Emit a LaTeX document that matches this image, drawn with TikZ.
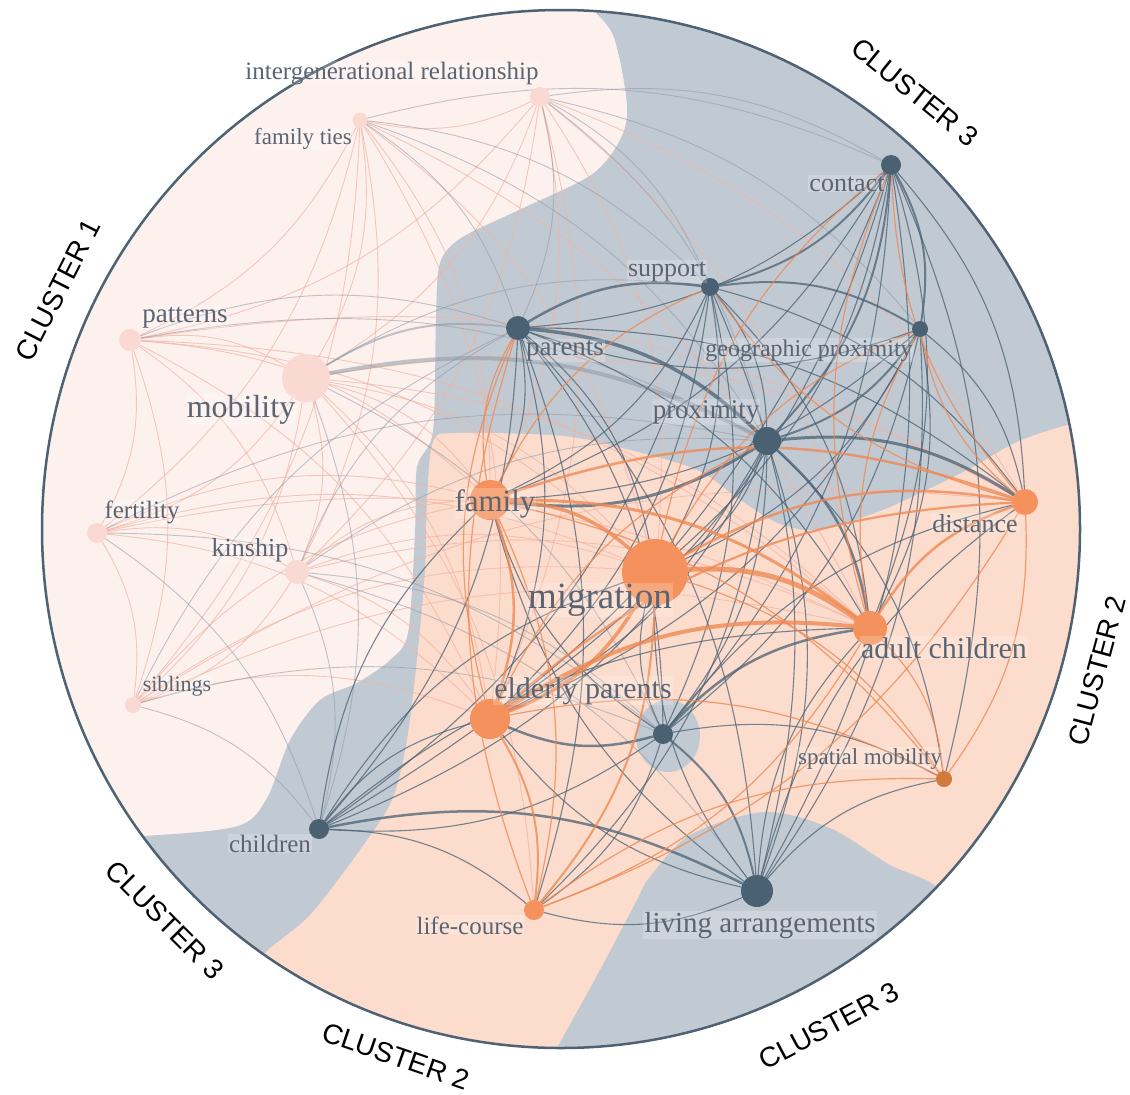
\documentclass[tikz,border=0pt]{standalone}
\usepackage{fontspec}
\setmainfont{Liberation Serif}
\newfontfamily\clusterfont{Liberation Sans}

\definecolor{bgone}{HTML}{FDF1EE}
\definecolor{bgtwo}{HTML}{FCDCCC}
\definecolor{bgthree}{HTML}{C1CAD3}
\definecolor{rim}{HTML}{4E6273}
\definecolor{kwone}{HTML}{F9D9D2}
\definecolor{kwtwo}{HTML}{F4915C}
\definecolor{kwthree}{HTML}{4A6174}
\definecolor{spmcol}{HTML}{D27A3E}
\definecolor{linkone}{HTML}{F2B3A3}
\definecolor{linkmix}{HTML}{8E98A5}
\definecolor{linktwo}{HTML}{EF8A55}
\definecolor{linkthree}{HTML}{4A6174}
\definecolor{labtext}{HTML}{5A6472}

\pgfdeclarelayer{regions}
\pgfdeclarelayer{links}
\pgfdeclarelayer{words}
\pgfsetlayers{regions,links,main,words}

\begin{document}
\begin{tikzpicture}[x=1pt,y=-1pt,
    kw/.style={circle, inner sep=0pt, minimum size=#1},
    c1/.style={kw=#1, fill=kwone},
    c2/.style={kw=#1, fill=kwtwo},
    c3/.style={kw=#1, fill=kwthree},
    lk/.style={bend left=19, line cap=round},
    lkone/.style={lk, draw=linkone, opacity=0.7, line width=0.9pt},
    lkmix/.style={lk, draw=linkmix, opacity=0.55, line width=0.9pt},
    lktwo/.style={lk, draw=linktwo, opacity=0.8, line width=1.2pt},
    lkthree/.style={lk, draw=linkthree, opacity=0.75, line width=1.1pt},
    word/.style={text=labtext, anchor=base, inner sep=1pt, fill=white, fill opacity=0.2, text opacity=1, font=\fontsize{#1}{#1}\selectfont},
    cluster/.style={font=\clusterfont\fontsize{28}{28}\selectfont, text=black}]
\useasboundingbox (0,0) rectangle (1130,1095);

% Keywords, cluster 1
\node[c1=20pt] (intg) at (540,97) {};
\node[c1=15pt] (famt) at (360,120) {};
\node[c1=22pt] (pat) at (130,340) {};
\node[c1=48pt] (mob) at (306,378) {};
\node[c1=20pt] (fert) at (97,533) {};
\node[c1=24pt] (kin) at (297,572) {};
\node[c1=16pt] (sib) at (133,705) {};
% Keywords, cluster 3
\node[c3=20pt] (con) at (891,165) {};
\node[c3=18pt] (sup) at (710,287) {};
\node[c3=16pt] (geo) at (920,329) {};
\node[c3=24pt] (par) at (518,328) {};
\node[c3=28pt] (prox) at (767,441) {};
\node[c3=20pt] (hub) at (663,734) {};
\node[c3=20pt] (chi) at (319,829) {};
\node[c3=32pt] (liv) at (757,891) {};
% Keywords, cluster 2
\node[c2=40pt] (fam) at (490,500) {};
\node[c2=66pt] (mig) at (655,572) {};
\node[c2=26pt] (dist) at (1025,502) {};
\node[c2=34pt] (adc) at (870,628) {};
\node[c2=40pt] (eld) at (490,719) {};
\node[c2=16pt, fill=spmcol] (spm) at (944,779) {};
\node[c2=20pt] (life) at (534,910) {};

% Cluster zones
\begin{pgfonlayer}{regions}
\begin{scope}
\clip (561,529) circle[radius=519pt];
\fill[bgone] (0,0) rectangle (1130,1095);
\fill[bgthree] plot[smooth] coordinates {(580,-20) (584,0) (613,35) (627,105) (620,140) (591,175) (519,210) (461,238) (440,263) (436,316) (433,431) (417,467) (415,533) (408,633) (390,660) (357,683) (320,700) (290,740) (267,798) (238,826) (144,836) (20,840)} -- (0,1100) -- (1130,1100) -- (1130,-20) -- cycle;
\fill[bgtwo] plot[smooth] coordinates {(240,990) (265,953) (310,915) (360,850) (392,800) (407,740) (418,650) (425,570) (427,500) (433,442) (455,433) (563,436) (630,450) (697,470) (740,500) (775,522) (805,530) (833,527) (883,510) (933,487) (973,467) (1017,442) (1067,425) (1130,410)} -- (1130,1100) -- (200,1100) -- cycle;
\fill[bgthree] plot[smooth] coordinates {(540,1080) (557,1048) (600,970) (637,900) (649,878) (690,835) (764,812) (830,828) (890,865) (937,887) (980,940)} -- (980,1100) -- (520,1100) -- cycle;
\fill[bgthree] (668,736) ellipse[x radius=32pt, y radius=36pt];
\end{scope}
\draw[rim, line width=2.5pt] (561,529) circle[radius=519pt];
\end{pgfonlayer}

% Links
\begin{pgfonlayer}{links}
\foreach \a/\b in {intg/famt, intg/mob, intg/kin, intg/pat, intg/fam, intg/mig, intg/eld, intg/adc, intg/dist,
    famt/pat, famt/mob, famt/kin, famt/fert, famt/sib, famt/fam, famt/mig, famt/eld, famt/adc,
    pat/mob, pat/fert, pat/kin, pat/sib, pat/fam, pat/mig, pat/eld, pat/adc, pat/dist,
    mob/fert, mob/kin, mob/sib, mob/fam, mob/mig, mob/eld, mob/adc, mob/dist, mob/life,
    fert/kin, fert/sib, fert/fam, fert/mig, fert/eld, fert/adc,
    kin/sib, kin/fam, kin/mig, kin/eld, kin/adc,
    sib/fam, sib/mig, sib/eld, sib/adc, sib/dist}
  \draw[lkone] (\a) to (\b);
\foreach \a/\b in {intg/par, intg/sup, intg/con, intg/prox, intg/geo, famt/par, famt/sup, famt/con, famt/prox,
    pat/prox, pat/par, mob/sup, mob/chi, mob/hub, fert/prox, fert/chi, fert/hub, kin/chi, kin/prox,
    kin/par, kin/hub, kin/liv, sib/chi, sib/hub, sib/par}
  \draw[lkmix] (\a) to (\b);
\foreach \a/\b/\w in {mob/prox/4, mob/par/2}
  \draw[lkmix, line width=\w pt] (\a) to (\b);
\foreach \a/\b in {con/par, con/dist, con/adc, con/mig, con/fam, con/eld, con/hub, con/liv, con/chi, con/spm,
    sup/prox, sup/mig, sup/fam, sup/adc, sup/dist, sup/eld, sup/hub, sup/chi, sup/liv,
    geo/par, geo/mig, geo/adc, geo/dist, geo/hub, geo/eld, geo/fam, geo/liv,
    par/fam, par/mig, par/eld, par/hub, par/chi, par/liv, par/adc, par/dist, par/life,
    prox/mig, prox/eld, prox/hub, prox/liv, prox/chi, prox/spm, prox/life,
    hub/mig, hub/chi, hub/life, hub/dist, hub/fam, hub/spm,
    chi/eld, chi/mig, chi/fam, chi/life, chi/adc,
    liv/mig, liv/adc, liv/eld, liv/fam, liv/life, liv/spm, liv/dist}
  \draw[lkthree] (\a) to (\b);
\foreach \a/\b/\w in {par/prox/3.5, prox/fam/3, prox/dist/3, prox/adc/2.5, con/geo/2, par/sup/2.5, sup/geo/2,
    chi/liv/2.5, hub/eld/2.5, con/sup/2, geo/prox/2, hub/adc/2.5, hub/liv/2, con/prox/2}
  \draw[lkthree, line width=\w pt] (\a) to (\b);
\foreach \a/\b in {fam/life, fam/spm, mig/spm, eld/spm, adc/spm, adc/life, dist/spm, dist/life, life/spm,
    mig/con, mig/geo, fam/par, eld/par, adc/con, dist/con, dist/geo, adc/geo, life/par, eld/prox,
    fam/sup, dist/sup}
  \draw[lktwo] (\a) to (\b);
\foreach \a/\b/\w in {fam/mig/3.5, mig/eld/3.5, mig/adc/5, fam/adc/3, eld/adc/4, mig/dist/2.5, fam/dist/2.5,
    fam/eld/2.5, adc/dist/2.5, eld/life/2, eld/dist/2.2, mig/life/2}
  \draw[lktwo, line width=\w pt] (\a) to (\b);
\end{pgfonlayer}

% Labels
\begin{pgfonlayer}{words}
\node[word=25] (intg-l) at (392,79) {intergenerational relationship};
\node[word=23] (famt-l) at (303,144) {family ties};
\node[word=27] (pat-l) at (185,322) {patterns};
\node[word=32] (mob-l) at (241,417) {mobility};
\node[word=25] (fert-l) at (142,518) {fertility};
\node[word=26] (kin-l) at (250,556) {kinship};
\node[word=22] (sib-l) at (177,691) {siblings};
\node[word=26] (con-l) at (847,191) {contact};
\node[word=26] (sup-l) at (667,276) {support};
\node[word=24] (geo-l) at (809,356) {geographic proximity};
\node[word=27] (par-l) at (565,355) {parents};
\node[word=27] (prox-l) at (706,418) {proximity};
\node[word=31] (fam-l) at (495,511) {family};
\node[word=37] (mig-l) at (600,608) {migration};
\node[word=26] (dist-l) at (975,532) {distance};
\node[word=30] (adc-l) at (944,658) {adult children};
\node[word=30] (eld-l) at (583,698) {elderly parents};
\node[word=23] (spm-l) at (870,764) {spatial mobility};
\node[word=25] (chi-l) at (270,852) {children};
\node[word=25] (life-l) at (470,934) {life-course};
\node[word=29] (liv-l) at (760,932) {living arrangements};

% Cluster names round the rim
\node[cluster, rotate=63] (cl1) at (58,290) {CLUSTER 1};
\node[cluster, rotate=-39] (cl3a) at (915,92) {CLUSTER 3};
\node[cluster, rotate=75] (cl2a) at (1097,671) {CLUSTER 2};
\node[cluster, rotate=28] (cl3b) at (829,1026) {CLUSTER 3};
\node[cluster, rotate=-19] (cl2b) at (396,1056) {CLUSTER 2};
\node[cluster, rotate=-45] (cl3c) at (165,920) {CLUSTER 3};
\end{pgfonlayer}
\end{tikzpicture}
\end{document}
